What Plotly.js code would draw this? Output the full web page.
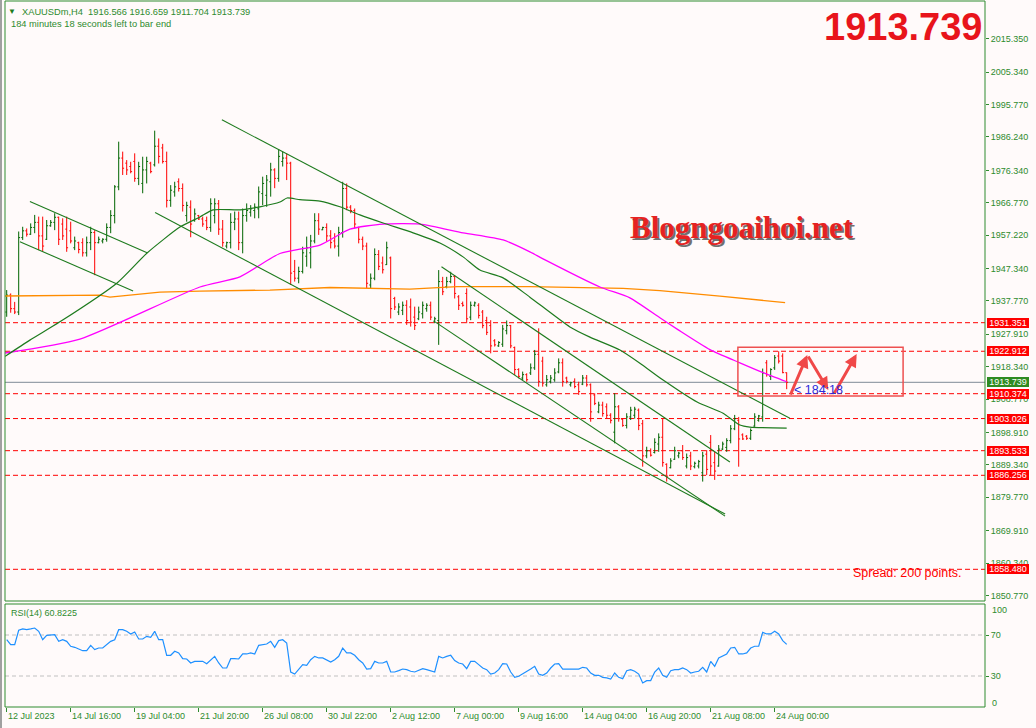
<!DOCTYPE html>
<html><head><meta charset="utf-8">
<script src="https://cdn.plot.ly/plotly-3.0.1.min.js"></script>
<style>html,body{margin:0;padding:0;background:#FFFAFA;}#chart{width:1036px;height:728px;}</style>
</head><body><div id="chart"></div>
<script>
// ---------- DATA ----------
const barOpen = [1934.5,1939.5,1935.5,1934.5,1956.5,1958.5,1957.5,1959.5,1961.0,1957.0,
1956.0,1960.0,1961.0,1962.5,1960.5,1959.0,1958.5,1953.5,1955.0,1955.0,
1952.0,1955.0,1958.0,1955.0,1955.5,1956.0,1959.5,1963.0,1971.5,1980.0,
1978.5,1977.5,1979.0,1974.0,1972.5,1976.5,1978.5,1978.0,1983.5,1983.0,
1979.0,1967.5,1970.0,1973.0,1971.0,1963.0,1965.5,1961.5,1963.0,1962.0,
1961.5,1959.5,1963.0,1966.5,1959.0,1954.0,1955.0,1961.0,1962.0,1955.0,
1963.0,1964.0,1964.5,1965.0,1969.5,1969.0,1973.0,1976.5,1974.0,1979.0,
1980.0,1978.5,1946.5,1944.5,1946.5,1951.0,1952.0,1955.5,1961.5,1958.8,
1959.5,1957.0,1955.5,1954.0,1958.0,1971.0,1965.5,1964.5,1959.5,1956.0,
1954.0,1942.5,1944.5,1951.5,1949.0,1948.5,1950.5,1938.5,1934.5,1935.0,
1936.5,1936.0,1933.0,1932.5,1934.0,1935.5,1936.5,1931.8,1932.0,1943.5,
1942.0,1943.5,1945.0,1939.0,1937.0,1940.0,1933.0,1936.5,1936.5,1934.5,
1932.0,1930.5,1926.0,1924.5,1925.0,1929.0,1930.5,1924.0,1917.5,1915.0,
1916.0,1916.5,1918.0,1922.0,1920.0,1913.0,1914.0,1914.5,1916.8,1919.5,
1915.0,1913.0,1914.0,1913.0,1913.2,1915.0,1913.0,1910.0,1905.0,1907.0,
1906.5,1904.0,1899.0,1906.5,1902.8,1901.0,1903.5,1904.0,1905.5,1901.5,
1892.0,1893.5,1893.0,1895.5,1897.5,1889.5,1888.5,1891.0,1892.0,1893.5,
1889.0,1892.0,1888.8,1889.0,1887.0,1892.5,1896.0,1890.0,1889.0,1894.0,
1894.5,1896.5,1900.0,1902.5,1898.2,1897.8,1897.2,1900.8,1902.5,1903.5,
1919.5,1915.5,1918.0,1921.5,1921.5,1916.566];
const barHigh = [1941.0,1940.0,1937.5,1958.3,1959.7,1959.2,1960.7,1963.2,1962.7,1962.7,
1961.7,1961.7,1963.7,1962.7,1962.2,1962.7,1961.2,1956.8,1955.3,1956.3,
1956.8,1959.7,1958.7,1956.8,1956.3,1960.7,1964.6,1972.0,1984.85,1981.9,
1979.4,1978.9,1981.4,1978.9,1980.4,1980.4,1978.9,1988.1,1985.8,1984.2,
1981.9,1972.0,1973.0,1974.0,1972.5,1967.1,1967.5,1965.1,1963.2,1962.7,
1962.7,1968.1,1968.1,1967.6,1961.7,1955.3,1963.7,1964.2,1964.2,1965.1,
1966.6,1966.1,1966.6,1971.6,1974.5,1975.0,1978.6,1977.0,1982.6,1981.9,
1981.4,1978.9,1949.9,1947.9,1953.8,1956.8,1957.3,1963.7,1963.7,1959.7,
1960.7,1958.7,1957.8,1959.7,1973.0,1972.5,1966.1,1965.1,1959.7,1956.8,
1955.0,1945.9,1953.3,1952.8,1950.9,1955.3,1950.9,1939.0,1937.1,1937.6,
1938.0,1938.5,1936.1,1936.1,1937.6,1937.1,1937.6,1933.1,1946.9,1944.9,
1944.9,1946.4,1945.4,1939.5,1937.6,1941.5,1937.6,1937.6,1937.1,1935.1,
1933.1,1932.1,1926.5,1925.9,1930.7,1932.0,1930.7,1924.3,1917.9,1916.9,
1916.4,1919.3,1923.3,1929.7,1921.3,1915.9,1915.9,1917.9,1920.8,1920.8,
1915.4,1913.9,1914.9,1913.9,1915.9,1915.9,1913.4,1910.5,1908.0,1908.0,
1907.5,1904.6,1910.5,1907.0,1903.1,1904.6,1906.5,1906.5,1906.0,1902.6,
1894.7,1894.2,1897.2,1898.65,1903.1,1889.8,1891.3,1894.7,1893.2,1895.2,
1892.7,1893.2,1890.3,1890.8,1893.2,1893.7,1898.15,1893.2,1895.2,1896.2,
1897.2,1901.1,1904.1,1903.5,1898.65,1898.15,1900.1,1904.6,1904.1,1917.8,
1920.3,1917.9,1921.8,1922.912,1922.3,1916.659];
const barLow = [1933.1,1934.3,1933.9,1933.6,1955.8,1956.8,1957.3,1957.8,1952.8,1952.3,
1955.8,1959.7,1958.7,1954.3,1955.8,1952.3,1954.8,1952.8,1951.85,1950.9,
1950.9,1952.8,1945.4,1954.8,1954.8,1955.3,1957.8,1960.7,1970.5,1975.0,
1975.0,1975.5,1973.0,1972.0,1969.6,1972.5,1975.5,1977.5,1978.4,1978.4,
1965.4,1965.6,1968.6,1970.1,1964.2,1961.2,1956.6,1961.2,1961.7,1959.7,
1958.7,1958.2,1960.7,1957.3,1953.8,1953.3,1953.3,1958.7,1952.8,1951.85,
1961.2,1962.7,1962.2,1962.2,1966.1,1965.6,1968.6,1971.1,1973.0,1977.5,
1973.5,1942.5,1943.5,1943.0,1945.9,1947.9,1947.4,1954.8,1957.3,1958.7,
1955.3,1953.3,1953.3,1950.9,1956.5,1964.6,1963.7,1959.2,1954.8,1952.8,
1941.5,1941.5,1943.9,1946.9,1945.9,1948.4,1932.6,1935.1,1933.6,1933.6,
1930.7,1930.2,1929.2,1932.1,1932.6,1934.6,1932.1,1931.2,1924.8,1939.5,
1941.5,1943.0,1938.5,1935.1,1936.1,1931.2,1932.1,1936.1,1932.6,1929.7,
1927.7,1922.3,1924.3,1924.2,1924.2,1927.9,1923.8,1915.9,1914.9,1914.4,
1913.9,1915.9,1917.4,1912.45,1912.45,1912.45,1913.4,1913.9,1916.4,1912.45,
1913.4,1912.45,1911.95,1910.0,1912.9,1912.45,1902.1,1907.0,1904.6,1903.6,
1903.1,1901.6,1895.7,1902.1,1900.6,1900.1,1902.6,1903.0,1899.6,1888.8,
1891.3,1891.8,1892.7,1893.2,1888.8,1884.4,1888.3,1890.8,1891.3,1890.8,
1888.3,1887.8,1888.3,1888.3,1884.4,1886.3,1886.3,1884.9,1888.8,1893.7,
1893.2,1895.7,1899.6,1888.8,1896.7,1896.7,1896.7,1900.6,1902.1,1902.1,
1915.4,1914.4,1917.4,1919.3,1916.4,1911.704];
const barClose = [1939.5,1935.5,1934.5,1956.5,1958.5,1957.5,1959.5,1961.0,1957.0,1954.0,
1960.0,1961.0,1962.5,1956.0,1957.0,1953.5,1955.5,1955.5,1953.0,1952.0,
1955.0,1958.0,1955.0,1956.0,1956.0,1959.5,1963.0,1971.5,1980.0,1977.0,
1976.5,1976.0,1974.0,1977.5,1976.5,1979.0,1976.0,1983.5,1980.5,1979.0,
1967.5,1970.5,1971.5,1971.0,1966.0,1966.0,1960.5,1963.5,1962.0,1960.5,
1959.5,1966.5,1966.5,1959.0,1955.0,1955.0,1961.0,1962.0,1955.0,1963.0,
1964.5,1965.0,1965.5,1970.0,1972.5,1973.5,1976.5,1974.0,1980.5,1980.0,
1978.5,1946.0,1944.5,1946.5,1952.0,1953.5,1955.5,1961.5,1959.0,1959.5,
1957.0,1955.0,1954.0,1958.0,1971.0,1965.5,1964.5,1960.5,1956.0,1954.0,
1943.0,1944.5,1951.5,1948.0,1947.0,1953.5,1935.5,1936.0,1936.0,1936.5,
1932.0,1931.5,1930.5,1934.5,1936.5,1936.5,1933.0,1932.5,1943.5,1940.5,
1943.5,1945.0,1940.0,1936.5,1936.5,1932.5,1936.5,1937.2,1933.5,1930.5,
1928.5,1924.5,1924.8,1925.5,1929.5,1930.5,1924.5,1917.5,1915.5,1916.0,
1914.5,1918.0,1922.0,1914.0,1913.5,1914.5,1915.0,1916.5,1919.5,1914.0,
1914.0,1913.6,1912.5,1911.0,1915.0,1913.0,1905.0,1907.5,1907.0,1904.5,
1904.0,1902.5,1906.5,1903.0,1901.0,1903.5,1905.5,1905.8,1901.0,1892.0,
1893.5,1892.2,1896.0,1897.5,1890.0,1886.0,1890.5,1893.5,1892.8,1891.5,
1891.5,1889.0,1889.8,1890.3,1892.0,1888.0,1889.0,1887.5,1894.0,1895.5,
1896.5,1900.0,1903.0,1897.0,1897.0,1897.2,1899.5,1903.5,1903.8,1916.5,
1916.0,1917.5,1921.0,1920.0,1916.6,1913.739];
const rsiValues = [65.4,60.6,60.6,74.6,75.9,75.2,75.9,76.8,73.6,65.4,
69.7,70.3,70.3,63.8,65.4,63.8,59.0,58.0,56.7,54.7,
54.7,59.9,55.7,57.3,57.3,60.6,63.8,65.4,75.2,75.2,
73.6,71.0,72.9,66.1,66.1,68.7,67.7,73.6,65.4,65.4,
50.2,50.2,54.1,52.5,46.9,46.6,42.7,44.3,44.3,44.3,
42.0,45.9,49.2,42.7,37.8,37.8,46.9,46.9,46.6,51.5,
51.5,52.5,51.5,59.9,60.6,61.2,63.8,58.0,64.5,65.4,
62.2,33.9,31.9,36.2,41.1,40.4,45.9,49.2,47.6,47.6,
45.9,43.7,45.9,49.2,57.3,52.5,52.5,50.2,45.9,42.7,
36.8,37.2,44.3,42.7,42.7,44.3,33.9,33.9,35.2,36.8,
36.2,34.6,33.9,35.2,37.2,36.2,35.2,33.9,49.2,47.6,
49.2,50.2,45.0,42.7,41.7,37.2,44.3,44.3,41.1,37.8,
36.2,31.9,32.9,36.2,42.0,41.7,33.9,28.7,29.7,31.9,
34.6,36.8,39.4,31.9,30.7,32.9,37.8,41.7,42.0,36.8,
36.8,36.8,36.8,36.8,38.5,37.8,32.9,30.7,30.7,28.7,
28.1,27.1,32.9,28.7,27.4,35.2,36.2,34.6,31.9,23.2,
25.5,25.5,33.9,37.8,30.7,28.7,35.2,36.2,36.2,37.8,
36.2,32.9,33.9,34.6,38.5,33.9,44.3,39.4,47.6,49.2,
51.5,57.3,58.0,51.5,51.5,52.5,57.3,59.0,59.0,72.6,
71.0,71.0,73.6,71.0,64.5,60.8225];
const xTickIndex = [0,16,32,48,64,80,96,112,128,144,160,176,192];
const xTickLabels = ['12 Jul 2023','14 Jul 16:00','19 Jul 04:00','21 Jul 20:00','26 Jul 08:00',
  '30 Jul 22:00','2 Aug 12:00','7 Aug 00:00','9 Aug 16:00','14 Aug 04:00','16 Aug 20:00',
  '21 Aug 08:00','24 Aug 00:00'];
const priceTicks = [2015.350,2005.340,1995.770,1986.240,1976.340,1966.770,1957.220,1947.340,
  1937.770,1927.910,1918.340,1908.770,1898.910,1889.340,1879.770,1869.910,1860.340,1850.770];
const rsiTicks = [70,30];
const levelPrices = [1931.351,1922.912,1910.374,1903.026,1893.533,1886.256,1858.480];
// moving averages (anchor points)
const maGreenX = [-0.4,5.8,13.3,27.6,35.1,43.3,48.3,51.6,58.3,63.3,68.3,70.1,73.3,78.3,83.3,88.3,
  94.1,101.6,108.3,114.1,118.3,124.1,130.8,140.8,145.8,153.3,158.3,164.1,172.6,179.1,183.3,185.8,195];
const maGreenY = [1921.4,1926.2,1931.6,1943.1,1951.95,1959.6,1962.6,1964.7,1964.7,1965.6,1967.0,
  1968.2,1967.7,1967.3,1965.6,1963.2,1960.8,1957.9,1954.9,1950.8,1946.9,1944.6,1938.9,1930.1,
  1927.1,1923.3,1919.4,1914.4,1907.9,1904.6,1901.1,1900.5,1900.2];
const maMagentaX = [-0.4,18.3,48.3,58.3,68.3,78.3,85.8,94.1,103.3,114.1,124.1,130.8,134.6,148.3,
  155.8,163.3,167.8,175.8,183.3,189.1,195];
const maMagentaY = [1922.4,1926.5,1941.9,1944.9,1951.8,1954.3,1959.0,1960.5,1960.5,1957.9,1955.8,
  1952.3,1949.9,1941.9,1938.7,1932.8,1929.3,1923.4,1919.5,1916.6,1913.9];
const maOrangeX = [-0.4,23.3,25.8,38.3,48.3,65.8,80.8,100.8,112.6,130.8,154.1,163.3,178.3,194.6];
const maOrangeY = [1939.24,1939.5,1938.9,1940.4,1940.7,1941.0,1941.75,1941.3,1942.0,1942.0,1941.5,
  1940.8,1939.2,1937.3];
// trend lines (start/end in bar index, price)
const trendX0 = [5.8,3.3,53.8,37.1,108.7,107.1];
const trendY0 = [1967.2,1955.3,1991.3,1963.9,1947.9,1931.6];
const trendX1 = [35.1,31.6,195.8,179.6,180.8,179.6];
const trendY1 = [1952.0,1940.7,1903.1,1874.8,1890.2,1874.2];
// drawn box and arrows
const boxX = [182.8,224.1];
const boxY = [1909.69,1924.08];
const arrowTailX = [195.8,200.15,206.65];
const arrowTailY = [1909.69,1921.8,1909.99];
const arrowHeadX = [200.15,205.4,212.5];
const arrowHeadY = [1921.8,1911.46,1922.1];
const symbolName = 'XAUUSDm,H4';
const timerText = '184 minutes 18 seconds left to bar end';
const timerShort = '< 184:18';
const spreadText = 'Spread: 200 points.';
const watermark = 'Blogngoaihoi.net';
const rsiName = 'RSI(14)';

// ---------- LAYOUT GEOMETRY ----------
const ML=5, MR=51, MT=1, MB=21, W=1036, H=728;
const PW=W-ML-MR, PH=H-MT-MB;
const px = p => (p-ML)/PW;
const py = p => (H-MB-p)/PH;
const mainBottom = py(601), rsiTop = py(604);
const FONT = 'Liberation Sans, Arial, sans-serif';
const TXT = '#2E8B2E', FRAME = '#2E8B2E';
const n = barOpen.length;
const idx = barOpen.map((_,i)=>i);
const lastClose = barClose[n-1];
const f3 = v => v.toFixed(3);

const traces = [];
traces.push({type:'ohlc', x:idx, open:barOpen, high:barHigh, low:barLow, close:barClose,
  increasing:{line:{color:'#006400', width:1}}, decreasing:{line:{color:'#FF0000', width:1}},
  tickwidth:0.35, hoverinfo:'skip', xaxis:'x', yaxis:'y', showlegend:false});
traces.push({type:'scatter', mode:'lines', x:maOrangeX, y:maOrangeY, line:{color:'#FF8C00', width:1.3},
  hoverinfo:'skip', showlegend:false});
traces.push({type:'scatter', mode:'lines', x:maMagentaX, y:maMagentaY, line:{color:'#FF00FF', width:1.3, shape:'spline', smoothing:0.6},
  hoverinfo:'skip', showlegend:false});
traces.push({type:'scatter', mode:'lines', x:maGreenX, y:maGreenY, line:{color:'#1E7B1E', width:1.2, shape:'spline', smoothing:0.6},
  hoverinfo:'skip', showlegend:false});
for (let k=0;k<trendX0.length;k++){
  traces.push({type:'scatter', mode:'lines', x:[trendX0[k],trendX1[k]], y:[trendY0[k],trendY1[k]],
    line:{color:'#1E7B1E', width:1.1}, hoverinfo:'skip', showlegend:false});
}
traces.push({type:'scatter', mode:'lines', x:idx, y:rsiValues, xaxis:'x', yaxis:'y2',
  line:{color:'#1E90FF', width:1.2}, hoverinfo:'skip', showlegend:false});

const shapes = [];
levelPrices.forEach(p => shapes.push({type:'line', xref:'paper', x0:0, x1:1, yref:'y', y0:p, y1:p,
  line:{color:'#FF0000', width:1, dash:'5px,3px'}, layer:'below'}));
shapes.push({type:'line', xref:'paper', x0:0, x1:1, yref:'y', y0:lastClose, y1:lastClose,
  line:{color:'#7F8A96', width:1}, layer:'below'});
rsiTicks.forEach(v => shapes.push({type:'line', xref:'paper', x0:0, x1:1, yref:'y2', y0:v, y1:v,
  line:{color:'#C0C0C0', width:1, dash:'4px,3px'}, layer:'below'}));
shapes.push({type:'rect', xref:'x', yref:'y', x0:boxX[0], x1:boxX[1], y0:boxY[0], y1:boxY[1],
  line:{color:'#EE5050', width:1.5}, layer:'above'});
shapes.push({type:'rect', xref:'paper', yref:'paper', x0:0, x1:1, y0:mainBottom, y1:1,
  line:{color:FRAME, width:1}, layer:'above'});
shapes.push({type:'rect', xref:'paper', yref:'paper', x0:0, x1:1, y0:0, y1:rsiTop,
  line:{color:FRAME, width:1}, layer:'above'});
shapes.push({type:'rect', xref:'paper', yref:'paper', x0:px(0), x1:px(2), y0:py(728), y1:py(0),
  fillcolor:'#A0A0A0', line:{width:0}, layer:'above'});

const ann = [];
const txt = (x,y,text,opts) => Object.assign({xref:'paper', yref:'paper', x:px(x), y:py(y), text:text,
  showarrow:false, xanchor:'left', yanchor:'middle', borderpad:0, font:{family:FONT, size:9, color:TXT}}, opts||{});
ann.push(txt(12.3,11.5,'▼',{xanchor:'center', font:{family:FONT,size:8,color:'#1E7B1E'}}));
ann.push(txt(20.7,11.7, symbolName+'  '+[barOpen[n-1],barHigh[n-1],barLow[n-1],barClose[n-1]].map(f3).join(' '),{font:{family:FONT,size:9.3,color:TXT}}));
ann.push(txt(10,24.3, timerText,{font:{family:FONT,size:9.3,color:TXT}}));
ann.push(txt(10,613, rsiName+' '+rsiValues[n-1].toFixed(4)));
ann.push(txt(990.5,610,'100'));
ann.push(txt(990.5,703,'0'));
// big price
ann.push(txt(984,27,'<b>'+f3(lastClose)+'</b>',{xanchor:'right', font:{family:FONT,size:38,color:'#E8141B'}}));
// watermark with shadow
ann.push(txt(741.5,228,'<b>'+watermark+'</b>',{xanchor:'center', xshift:2, yshift:-2, font:{family:'Liberation Serif, Times New Roman, serif',size:31,color:'#707070'}}));
ann.push(txt(741.5,228,'<b>'+watermark+'</b>',{xanchor:'center', font:{family:'Liberation Serif, Times New Roman, serif',size:31,color:'#E52222'}}));
ann.push(txt(852,573,spreadText,{font:{family:FONT,size:12.5,color:'#FF0000'}}));
// x labels, left aligned at their ticks
xTickIndex.forEach((v,k)=> ann.push({xref:'x', x:v, yref:'paper', y:0, xanchor:'left', yanchor:'top', yshift:-3,
  text:xTickLabels[k], showarrow:false, borderpad:0, font:{family:FONT,size:9,color:TXT}}));
// price boxes
const box = (p,color) => ({xref:'paper', x:1, xanchor:'left', xshift:1.5, yref:'y', y:p, yanchor:'middle',
  text:f3(p), showarrow:false, bgcolor:color, borderpad:0, borderwidth:0, width:42, height:10,
  font:{family:FONT,size:9,color:'#FFFFFF'}});
ann.push(box(lastClose,'#2E8B22'));
levelPrices.forEach(p => ann.push(box(p,'#FF0000')));
// arrows
for (let k=0;k<arrowTailX.length;k++){
  ann.push({xref:'x', yref:'y', axref:'x', ayref:'y', x:arrowHeadX[k], y:arrowHeadY[k],
    ax:arrowTailX[k], ay:arrowTailY[k], text:'', showarrow:true, arrowhead:2, arrowsize:0.85,
    arrowwidth:3, arrowcolor:'#F04848', standoff:0});
}
ann.push({xref:'x', yref:'y', x:(793-6.7)/4, y:1911.46, xanchor:'left', yanchor:'middle', text:timerShort,
  showarrow:false, borderpad:0, font:{family:FONT,size:12.5,color:'#2B2BD9'}});

const layout = {
  width:W, height:H, margin:{l:ML, r:MR, t:MT, b:MB, pad:0},
  paper_bgcolor:'#FFFAFA', plot_bgcolor:'#FFFAFA',
  font:{family:FONT, size:9, color:TXT}, showlegend:false, dragmode:false,
  xaxis:{domain:[0,1], anchor:'y2', range:[-0.425, -0.425+PW/4], rangeslider:{visible:false},
    tickvals:xTickIndex, showticklabels:false, ticks:'outside', ticklen:4, tickcolor:FRAME,
    showgrid:false, zeroline:false, showline:false, fixedrange:true},
  yaxis:{domain:[mainBottom,1], anchor:'x', side:'right', range:[1931.351-(601-322.7)/3.384, 1931.351+(322.7-1)/3.384],
    tickvals:priceTicks, ticktext:priceTicks.map(f3), ticks:'outside', ticklen:3, tickcolor:FRAME,
    tickfont:{family:FONT,size:9,color:TXT}, showgrid:false, zeroline:false, showline:false, fixedrange:true},
  yaxis2:{domain:[0,rsiTop], anchor:'x', side:'right', range:[-0.24,100.24],
    tickvals:rsiTicks, ticktext:rsiTicks.map(String), ticks:'outside', ticklen:3, tickcolor:FRAME,
    tickfont:{family:FONT,size:9,color:TXT}, showgrid:false, zeroline:false, showline:false, fixedrange:true},
  shapes:shapes, annotations:ann
};
Plotly.newPlot('chart', traces, layout, {staticPlot:true, displayModeBar:false});
</script></body></html>
